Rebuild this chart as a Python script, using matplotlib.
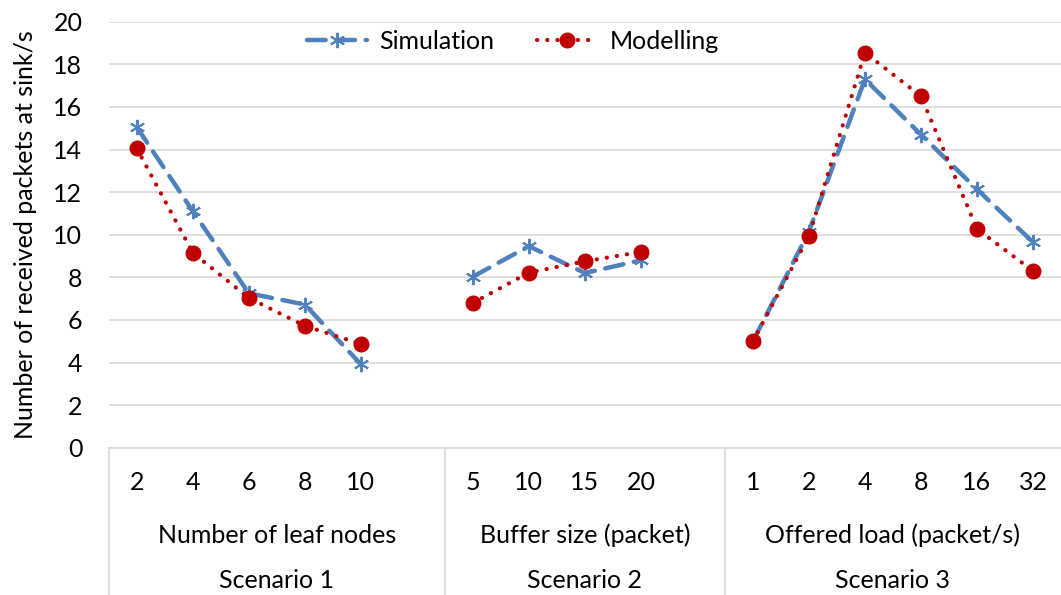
import matplotlib
matplotlib.use("Agg")
import matplotlib.pyplot as plt
import matplotlib.transforms as mtransforms
import numpy as np

# data
groups = ["Number of leaf nodes", "Buffer size (packet)", "Offered load (packet/s)"]
scenarios = ["Scenario 1", "Scenario 2", "Scenario 3"]
cat_labels = [["2", "4", "6", "8", "10"],
              ["5", "10", "15", "20"],
              ["1", "2", "4", "8", "16", "32"]]
simulation = [[15.05, 11.1, 7.25, 6.72, 3.92],
              [8.03, 9.46, 8.2, 8.8],
              [5.0, 10.15, 17.3, 14.7, 12.13, 9.65]]
modelling = [[14.05, 9.15, 7.03, 5.72, 4.87],
             [6.8, 8.22, 8.75, 9.19],
             [5.0, 9.93, 18.55, 16.5, 10.27, 8.3]]

plt.rcParams['font.family'] = ['Lato', 'DejaVu Sans']
blue = '#4f81bd'
red = '#c00000'
grid_c = '#d9d9d9'
fs = 18

fig = plt.figure(figsize=(10.61, 5.95), dpi=100)
ax = fig.add_axes([108.8/1061, 1-447.7/595, (1061-108.8)/1061, (447.7-21.7)/595])

# category positions, one empty slot after each group
pos = []
bounds = [-0.5]
start = 0
for labs in cat_labels:
    pos.append(np.arange(start, start + len(labs)))
    start += len(labs)
    if len(pos) < len(cat_labels):
        start += 1
    bounds.append(start - 0.5)

for i in range(len(cat_labels)):
    ax.plot(pos[i], simulation[i], color=blue, lw=3.2, dashes=(4.2, 2.4),
            dash_capstyle='round', marker=(6, 2, 0), ms=11, mew=1.4,
            label='Simulation' if i == 0 else None, zorder=3)
    ax.plot(pos[i], modelling[i], color=red, lw=3.0, dashes=(0.05, 2.4),
            dash_capstyle='round', marker='o', ms=10.5,
            label='Modelling' if i == 0 else None, zorder=4)

ax.set_xlim(-0.5, bounds[-1])
ax.set_ylim(0, 20)
ax.set_yticks(np.arange(0, 21, 2))
ax.tick_params(axis='y', length=0, pad=19, labelsize=fs)
ax.set_xticks([])
ax.grid(axis='y', color=grid_c, lw=1.2)
ax.set_axisbelow(True)
for s in ['top', 'right', 'left']:
    ax.spines[s].set_visible(False)
ax.spines['bottom'].set_color(grid_c)
ax.spines['bottom'].set_linewidth(1.2)

ax.set_ylabel('Number of received packets at sink/s', fontsize=fs, labelpad=12)

# multi-level category axis
tr = mtransforms.blended_transform_factory(ax.transData, ax.transAxes)
for i, labs in enumerate(cat_labels):
    for p, lab in zip(pos[i], labs):
        ax.text(p, -0.082, lab, transform=tr, ha='center', va='center', fontsize=fs)
    mid = (bounds[i] + bounds[i + 1]) / 2
    ax.text(mid, -0.205, groups[i], transform=tr, ha='center', va='center', fontsize=fs)
    ax.text(mid, -0.312, scenarios[i], transform=tr, ha='center', va='center', fontsize=fs)
for b in bounds[:-1]:
    ax.plot([b, b], [0, -0.36], transform=tr, color=grid_c, lw=1.2, clip_on=False)

ax.legend(loc='center', bbox_to_anchor=(513/1061, 1 - 41.7/595), bbox_transform=fig.transFigure,
          ncol=2, frameon=False, fontsize=fs, handlelength=2.4, columnspacing=1.7,
          handletextpad=0.5)

fig.savefig('out.png', dpi=100)
